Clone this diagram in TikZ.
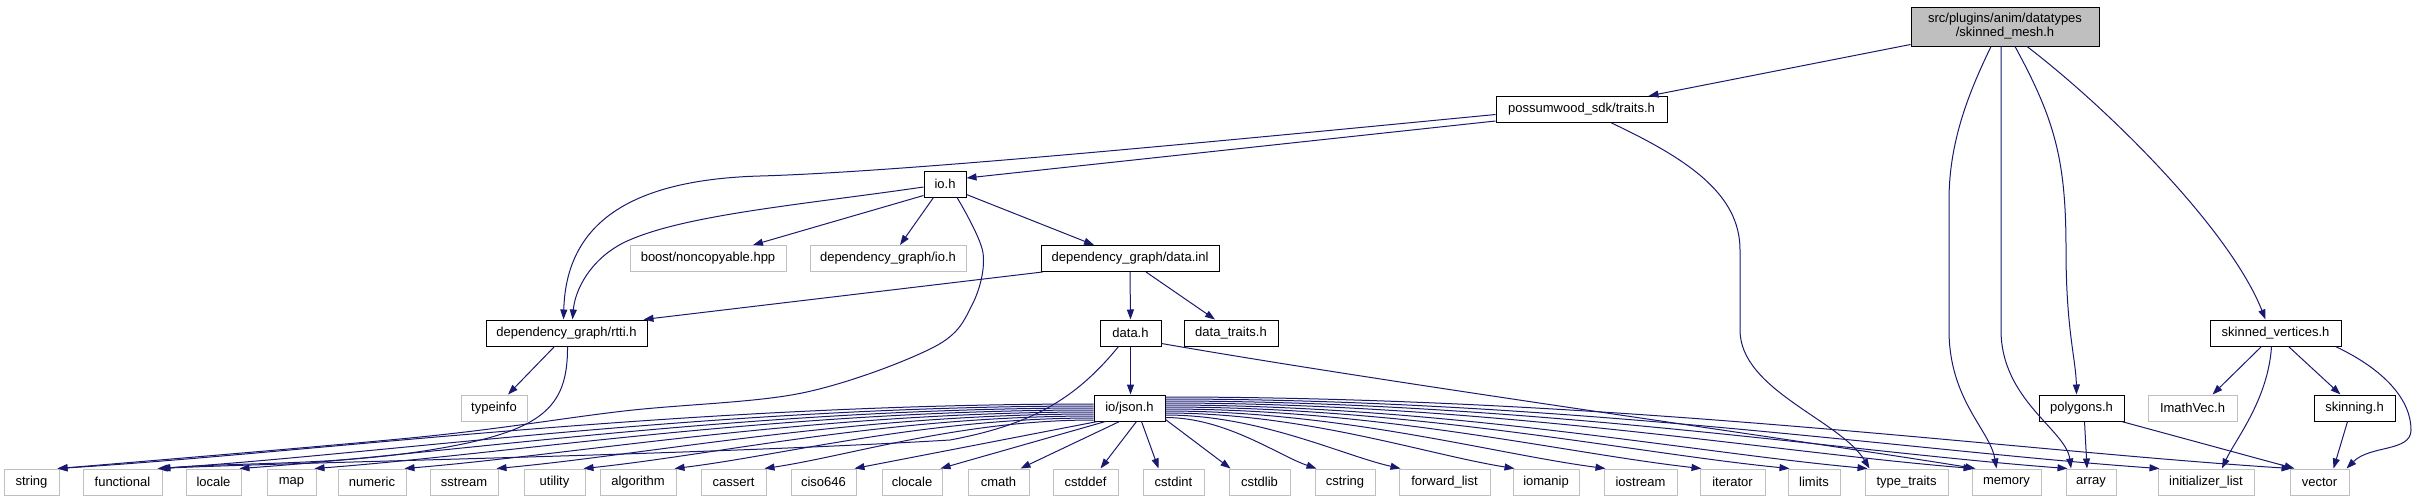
\documentclass[tikz,border=0pt]{standalone}
\usepackage{fontspec}
\setmainfont{Liberation Sans}
\usetikzlibrary{arrows.meta,calc}
\definecolor{edgeblue}{HTML}{191970}
\definecolor{lgray}{HTML}{BFBFBF}
\tikzset{
 nd/.style={draw=black, fill=white, line width=1pt, inner sep=0pt, minimum height=26pt, font=\fontsize{13}{14}\selectfont, align=center},
 sysnd/.style={nd, draw=lgray},
 topnd/.style={nd, fill=lgray},
 edge/.style={draw=edgeblue, line width=1pt, -{Triangle[length=10pt,width=7pt]}},
}
\newcommand\jlink[2]{\draw[edge] let \p1=(#1), \p2=(#2) in (\p1) .. controls ({\x1+0.4*(\x2-\x1)},\y1) and ({\x1+0.75*(\x2-\x1)},{\y1+0.75*(\y2-\y1)}) .. (\p2);}
\begin{document}
\begin{tikzpicture}[x=1pt,y=-1pt]
\useasboundingbox (0,0) rectangle (2417,501);
% ---- nodes
\node[topnd, minimum width=188pt, minimum height=39pt] (sm) at (2005,26.5) {src/plugins/anim/datatypes\\/skinned\_mesh.h};
\node[nd, minimum width=171pt] (traits) at (1581.5,109.5) {possumwood\_sdk/traits.h};
\node[nd, minimum width=42pt] (io) at (945,184) {io.h};
\node[sysnd, minimum width=156pt] (boost) at (708,258.5) {boost/noncopyable.hpp};
\node[sysnd, minimum width=156pt] (dgio) at (888,258.5) {dependency\_graph/io.h};
\node[nd, minimum width=178pt] (datainl) at (1130,258.5) {dependency\_graph/data.inl};
\node[nd, minimum width=161pt] (rtti) at (566.5,333) {dependency\_graph/rtti.h};
\node[nd, minimum width=61pt] (datah) at (1130.5,333) {data.h};
\node[nd, minimum width=94pt] (datatraits) at (1231,333) {data\_traits.h};
\node[nd, minimum width=131pt] (sv) at (2275.5,333) {skinned\_vertices.h};
\node[sysnd, minimum width=66pt] (typeinfo) at (494,408) {typeinfo};
\node[nd, minimum width=71pt] (json) at (1129.5,408) {io/json.h};
\node[nd, minimum width=85pt] (polygons) at (2081.5,408) {polygons.h};
\node[sysnd, minimum width=89pt] (imath) at (2192.5,408) {ImathVec.h};
\node[nd, minimum width=81pt] (skinning) at (2354.5,408) {skinning.h};
\node[sysnd, minimum width=55pt] (string) at (31.5,482) {string};
\node[sysnd, minimum width=79pt] (functional) at (122.5,482) {functional};
\node[sysnd, minimum width=55pt] (locale) at (213.5,482) {locale};
\node[sysnd, minimum width=49pt] (map) at (291.5,482) {map};
\node[sysnd, minimum width=68pt] (numeric) at (372,482) {numeric};
\node[sysnd, minimum width=68pt] (sstream) at (464,482) {sstream};
\node[sysnd, minimum width=61pt] (utility) at (554.5,482) {utility};
\node[sysnd, minimum width=76pt] (algorithm) at (638,482) {algorithm};
\node[sysnd, minimum width=65pt] (cassert) at (733.5,482) {cassert};
\node[sysnd, minimum width=65pt] (ciso) at (823.5,482) {ciso646};
\node[sysnd, minimum width=60pt] (clocale) at (912,482) {clocale};
\node[sysnd, minimum width=61pt] (cmath) at (998.5,482) {cmath};
\node[sysnd, minimum width=65pt] (cstddef) at (1085.5,482) {cstddef};
\node[sysnd, minimum width=61pt] (cstdint) at (1173.5,482) {cstdint};
\node[sysnd, minimum width=61pt] (cstdlib) at (1259.5,482) {cstdlib};
\node[sysnd, minimum width=60pt] (cstring) at (1345,482) {cstring};
\node[sysnd, minimum width=91pt] (fwdlist) at (1444.5,482) {forward\_list};
\node[sysnd, minimum width=66pt] (iomanip) at (1546,482) {iomanip};
\node[sysnd, minimum width=73pt] (iostream) at (1640.5,482) {iostream};
\node[sysnd, minimum width=65pt] (iterator) at (1732.5,482) {iterator};
\node[sysnd, minimum width=52pt] (limits) at (1814,482) {limits};
\node[sysnd, minimum width=83pt] (typetraits) at (1906.5,482) {type\_traits};
\node[sysnd, minimum width=69pt] (memory) at (2006.5,482) {memory};
\node[sysnd, minimum width=50pt] (array) at (2091,482) {array};
\node[sysnd, minimum width=96pt] (initlist) at (2206,482) {initializer\_list};
\node[sysnd, minimum width=59pt] (vector) at (2319.5,482) {vector};
% ---- skinned_mesh.h
\draw[edge] ([yshift=2pt]sm.south west) -- ([xshift=-19pt]traits.north east);
\draw[edge] ([xshift=-14pt]sm.south) .. controls (1970,90) and (1949,140) .. (1949,200) -- (1949,330) .. controls (1949,400) and (1990,430) .. ([xshift=-10pt]memory.north);
\draw[edge] ([xshift=-4pt]sm.south) -- (2001,330) .. controls (2001,400) and (2066,430) .. ([xshift=-20pt]array.north);
\draw[edge] ([xshift=10pt]sm.south) .. controls (2055,120) and (2066,160) .. (2066,250) .. controls (2066,330) and (2076,360) .. ([xshift=-5pt]polygons.north);
\draw[edge] ([xshift=22pt]sm.south) .. controls (2110,110) and (2230,230) .. ([xshift=-10pt]sv.north);
% ---- traits.h
\draw[edge] ([yshift=2pt]traits.south west) -- ([yshift=6pt]io.east);
\draw[edge] ([yshift=-5pt]traits.west) .. controls (1200,143) and (900,172) .. (760,176) .. controls (620,180) and (566,230) .. ([xshift=-3pt]rtti.north);
\draw[edge] ([xshift=30pt]traits.south) .. controls (1690,160) and (1740,195) .. (1740,250) -- (1740,330) .. controls (1740,390) and (1840,420) .. ([xshift=5pt]typetraits.north west);
% ---- io.h
\draw[edge] ([yshift=-3pt]io.west) .. controls (800,205) and (680,215) .. (623,243) .. controls (590,260) and (575,290) .. ([xshift=6pt]rtti.north);
\draw[edge] ([yshift=2pt]io.south west) -- ([xshift=45pt]boost.north);
\draw[edge] ([xshift=10pt]io.south west) -- ([xshift=12pt]dgio.north);
\draw[edge] ([yshift=3pt]io.south east) -- ([xshift=-36pt]datainl.north);
\draw[edge] plot[smooth, tension=0.55] coordinates {([xshift=12pt]io.south) (983,253) (972,305) (934,347) (802,393) (624,411) (420,437) ([xshift=-2pt]string.north east)};
% ---- rtti.h
\draw[edge] ([xshift=-12pt]rtti.south) -- ([xshift=14pt]typeinfo.north);
\draw[edge] ([xshift=1pt]rtti.south) .. controls (568,410) and (540,432) .. (430,450) .. controls (330,466) and (240,462) .. ([xshift=-2pt]functional.north east);
% ---- data.inl
\draw[edge] ([xshift=2pt]datainl.south west) -- ([xshift=-4pt]rtti.north east);
\draw[edge] (datainl.south) -- (datah.north);
\draw[edge] ([xshift=16pt]datainl.south) -- ([xshift=-16pt]datatraits.north);
% ---- data.h
\draw[edge] (datah.south) -- (datah.south |- json.north);
\draw[edge] ([yshift=3pt]datah.south east) .. controls (1400,385) and (1800,440) .. ([xshift=4pt]memory.north west);
\draw[edge] ([xshift=-12pt]datah.south) .. controls (1075,400) and (1030,425) .. (950,440) .. controls (700,455) and (300,462) .. ([xshift=-5pt]functional.north east);
% ---- polygons / skinned_vertices / skinning
\draw[edge] ([xshift=3pt]polygons.south) -- ([xshift=-4pt]array.north);
\draw[edge] ([xshift=-3pt]polygons.south east) -- ([xshift=5pt]vector.north west);
\draw[edge] ([xshift=-14pt]sv.south) -- ([xshift=20pt]imath.north);
\draw[edge] ([xshift=-4pt]sv.south) .. controls (2268,400) and (2235,440) .. ([xshift=16pt]initlist.north);
\draw[edge] ([xshift=13pt]sv.south) -- ([xshift=-14pt]skinning.north);
\draw[edge] ([xshift=-6pt]sv.south east) .. controls (2385,370) and (2411,400) .. (2411,430) .. controls (2411,452) and (2370,445) .. ([xshift=-3pt]vector.north east);
\draw[edge] ([xshift=-7pt]skinning.south) -- ([xshift=14pt]vector.north);
% ---- io/json.h
\jlink{[yshift=4pt]json.west}{[xshift=-2pt]string.north east}
\jlink{[yshift=2pt]json.west}{[xshift=-3pt]functional.north east}
\jlink{json.west}{[xshift=-2pt]locale.north east}
\jlink{[yshift=-2pt]json.west}{[xshift=-2pt]map.north east}
\jlink{[yshift=-4pt]json.west}{[xshift=-2pt]numeric.north east}
\jlink{[yshift=-6pt]json.west}{[xshift=-2pt]sstream.north east}
\jlink{[yshift=-8pt]json.west}{[xshift=-2pt]utility.north east}
\jlink{[yshift=-10pt]json.west}{[xshift=-2pt]algorithm.north east}
\jlink{[yshift=-12pt]json.west}{[xshift=-2pt]cassert.north east}
\draw[edge] ([xshift=4pt]json.south west) -- ([xshift=-2pt]ciso.north east);
\draw[edge] ([xshift=12pt]json.south west) -- ([xshift=-2pt]clocale.north east);
\draw[edge] ([xshift=26pt]json.south west) -- ([xshift=-9pt]cmath.north east);
\draw[edge] ([xshift=7pt]json.south) -- ([xshift=15pt]cstddef.north);
\draw[edge] ([xshift=12pt]json.south) -- ([xshift=-15pt]cstdint.north);
\draw[edge] ([yshift=2pt]json.south east) -- ([xshift=2pt]cstdlib.north west);
\jlink{[yshift=4pt]json.south east}{[xshift=2pt]cstring.north west}
\jlink{[yshift=-7pt]json.east}{[xshift=2pt]fwdlist.north west}
\jlink{[yshift=-5pt]json.east}{[xshift=2pt]iomanip.north west}
\jlink{[yshift=-3pt]json.east}{[xshift=2pt]iostream.north west}
\jlink{[yshift=-1pt]json.east}{[xshift=2pt]iterator.north west}
\jlink{[yshift=1pt]json.east}{[xshift=2pt]limits.north west}
\jlink{[yshift=3pt]json.east}{[xshift=3pt]typetraits.north west}
\jlink{[yshift=5pt]json.east}{[xshift=2pt]memory.north west}
\jlink{[yshift=7pt]json.east}{[xshift=2pt]array.north west}
\jlink{[yshift=9pt]json.east}{[xshift=2pt]initlist.north west}
\jlink{[yshift=11pt]json.east}{[xshift=2pt]vector.north west}
\end{tikzpicture}
\end{document}
